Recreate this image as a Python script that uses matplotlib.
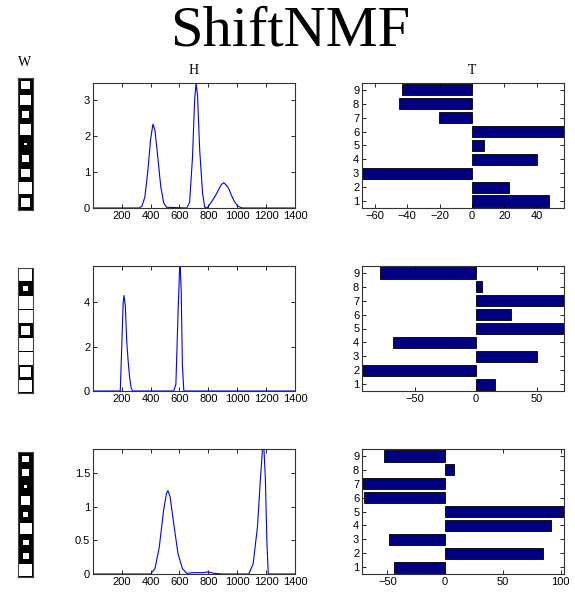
import matplotlib
matplotlib.use("Agg")
import matplotlib.pyplot as plt
from matplotlib.patches import Rectangle

# W: relative size of each white square (top to bottom) for the three components
w_sizes = [
    [0.55, 0.7, 0.5, 0.75, 0.15, 0.5, 0.55, 0.85, 0.6],
    [0.9, 0.35, 0.95, 0.95, 0.6, 0.95, 0.95, 0.75, 0.9],
    [0.45, 0.5, 0.25, 0.65, 0.35, 0.8, 0.4, 0.4, 0.9],
]

h1_x = [1, 320, 340, 360, 380, 400, 416, 430, 450, 470, 490, 510, 650, 670, 690, 705, 715, 725,
        740, 760, 775, 790, 810, 830, 850, 870, 890, 906, 920, 940, 960, 980, 1000, 1020, 1035, 1400]
h1_y = [0, 0, 0.05, 0.3, 1.0, 1.9, 2.32, 2.15, 1.4, 0.6, 0.15, 0.02, 0, 0.15, 1.4, 3.0, 3.46, 3.1,
        1.6, 0.4, 0.02, 0, 0.1, 0.22, 0.35, 0.5, 0.65, 0.7, 0.65, 0.55, 0.35, 0.18, 0.07, 0.02, 0, 0]
h2_x = [1, 190, 200, 210, 216, 225, 235, 245, 255, 265, 275, 560, 575, 590, 600, 605, 612, 620, 630, 1400]
h2_y = [0, 0, 2.0, 4.0, 4.3, 3.8, 2.2, 1.3, 0.6, 0.15, 0, 0, 0.3, 3.5, 5.4, 5.6, 4.5, 1.2, 0, 0]
h3_x = [1, 400, 430, 460, 490, 510, 520, 535, 560, 590, 620, 650, 700, 760, 800, 840, 900, 1080,
        1110, 1140, 1160, 1175, 1185, 1195, 1205, 1215, 1400]
h3_y = [0, 0, 0.08, 0.4, 0.95, 1.2, 1.24, 1.15, 0.75, 0.3, 0.08, 0.01, 0.02, 0.02, 0.03, 0.01, 0, 0,
        0.15, 0.7, 1.4, 1.86, 1.86, 1.4, 0.5, 0, 0]
h_x = [h1_x, h2_x, h3_x]
h_y = [h1_y, h2_y, h3_y]
h_ylim = [3.46, 5.63, 1.86]
h_yticks = [[0, 1, 2, 3], [0, 2, 4], [0, 0.5, 1, 1.5]]
h_xticks = [200, 400, 600, 800, 1000, 1200, 1400]

# T: shift values for channels 1..9
channels = [1, 2, 3, 4, 5, 6, 7, 8, 9]
t1 = [48, 23, -68, 40, 7.2, 57, -20.3, -45, -43.5]
t2 = [15.8, -93.5, 49.6, -68.4, 71, 28.3, 72, 5.2, -79]
t3 = [-44, 84.6, -48.4, 91.6, 103, -70.7, -72, 7.5, -53]
t_vals = [t1, t2, t3]
t_xticks = [[-60, -40, -20, 0, 20, 40], [-50, 0, 50], [-50, 0, 50, 100]]

W, Hh = 575, 599
fig = plt.figure(figsize=(5.75, 5.99), dpi=100, facecolor='white')

def box(l, t, r, b):
    return [l / W, 1 - b / Hh, (r - l) / W, (b - t) / Hh]

rows = [(83, 208), (266, 391), (449, 574)]
w_rows = [(78, 210), (268, 393), (452, 577)]
frame = '#333333'

def style(ax):
    ax.tick_params(direction='in', length=3, top=True, right=True, labelsize=8,
                   colors='black', width=0.6, pad=2)
    for lab in ax.get_xticklabels() + ax.get_yticklabels():
        lab.set_family('Liberation Sans')
    for s in ax.spines.values():
        s.set_color(frame)
        s.set_linewidth(0.8)

for i in range(3):
    top, bot = rows[i]

    # W hinton-style column
    wt, wb = w_rows[i]
    axw = fig.add_axes(box(18, wt, 33, wb))
    axw.set_facecolor('black')
    axw.set_xlim(0, 1)
    axw.set_ylim(0, 9)
    for k, s in enumerate(w_sizes[i]):
        yc = 8.5 - k
        axw.add_patch(Rectangle((0.5 - s / 2, yc - s / 2), s, s, facecolor='white', edgecolor='none'))
    axw.set_xticks([])
    axw.set_yticks([])
    for sp in axw.spines.values():
        sp.set_color('#444444')
        sp.set_linewidth(0.8)

    # H profile
    axh = fig.add_axes(box(93, top, 295, bot))
    axh.plot(h_x[i], h_y[i], color='blue', linewidth=0.8)
    axh.set_xlim(1, 1400)
    axh.set_ylim(0, h_ylim[i])
    axh.set_xticks(h_xticks)
    axh.set_yticks(h_yticks[i])
    axh.set_yticklabels([('%g' % v) for v in h_yticks[i]])
    style(axh)

    # T shifts
    axt = fig.add_axes(box(362, top, 564, bot))
    axt.barh(channels, t_vals[i], height=0.8, color='#000080', edgecolor='black', linewidth=0.6)
    axt.set_xlim(min(t_vals[i]), max(t_vals[i]))
    axt.set_ylim(0.5, 9.5)
    axt.set_yticks(channels)
    axt.set_xticks(t_xticks[i])
    style(axt)

fig.text(25 / W, 1 - 63 / Hh, 'W', ha='center', va='center', family='Liberation Serif', fontsize=10)
fig.text(194 / W, 1 - 71 / Hh, 'H', ha='center', va='center', family='Liberation Serif', fontsize=10)
fig.text(472 / W, 1 - 71 / Hh, 'T', ha='center', va='center', family='Liberation Serif', fontsize=10)
fig.text(290 / W, 1 - 31 / Hh, 'ShiftNMF', ha='center', va='center', family='Liberation Serif', fontsize=42)

fig.savefig('out.png', dpi=100, facecolor='white')
